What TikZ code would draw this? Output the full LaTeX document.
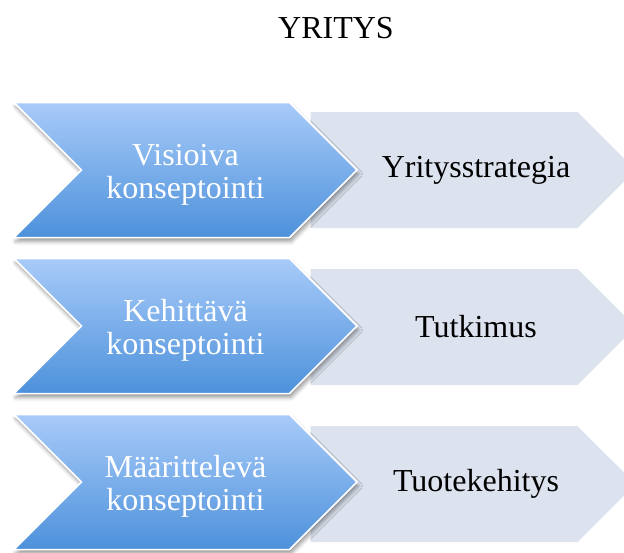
\documentclass[tikz,border=0pt]{standalone}
\usepackage{fontspec}
\setmainfont{Liberation Serif}
\usetikzlibrary{shapes.symbols,shadows.blur}
\definecolor{sinivalo}{HTML}{A8CBF9}
\definecolor{sinitumma}{HTML}{4D91DB}
\definecolor{harmaa}{HTML}{DCE2EE}
\tikzset{
  vaihe/.style={shape=signal,signal pointer angle=90,signal from=west,signal to=east,
    minimum width=343pt,minimum height=135pt,inner sep=0pt,
    top color=sinivalo,bottom color=sinitumma,draw=white,line width=1.5pt,
    blur shadow={shadow xshift=1.5pt,shadow yshift=-4pt,shadow blur radius=4pt,shadow opacity=40},
    text=white,align=center,font=\fontsize{32}{33}\selectfont},
  alue/.style={shape=signal,signal pointer angle=90,signal to=east,
    minimum width=325pt,minimum height=116pt,inner sep=0pt,
    fill=harmaa,text=black,font=\fontsize{32}{34}\selectfont},
  otsikko/.style={font=\fontsize{32}{34}\selectfont}
}

\begin{document}
\begin{tikzpicture}[x=1pt,y=-1pt]
\useasboundingbox (0,0) rectangle (624,552);
\clip (0,0) rectangle (624,552);
\node[otsikko] (yritys) at (336,28) {YRITYS};
\node[alue] (a1) at (444,170) {\hspace*{64pt}Yritysstrategia};
\node[alue] (a2) at (444,327) {\hspace*{64pt}Tutkimus};
\node[alue] (a3) at (444,484) {\hspace*{64pt}Tuotekehitys};
\node[vaihe] (k1) at (185.5,170) {\rule{0pt}{30pt}Visioiva\\konseptointi};
\node[vaihe] (k2) at (185.5,326) {\rule{0pt}{30pt}Kehittävä\\konseptointi};
\node[vaihe] (k3) at (185.5,482) {\rule{0pt}{30pt}Määrittelevä\\konseptointi};
\end{tikzpicture}
\end{document}
